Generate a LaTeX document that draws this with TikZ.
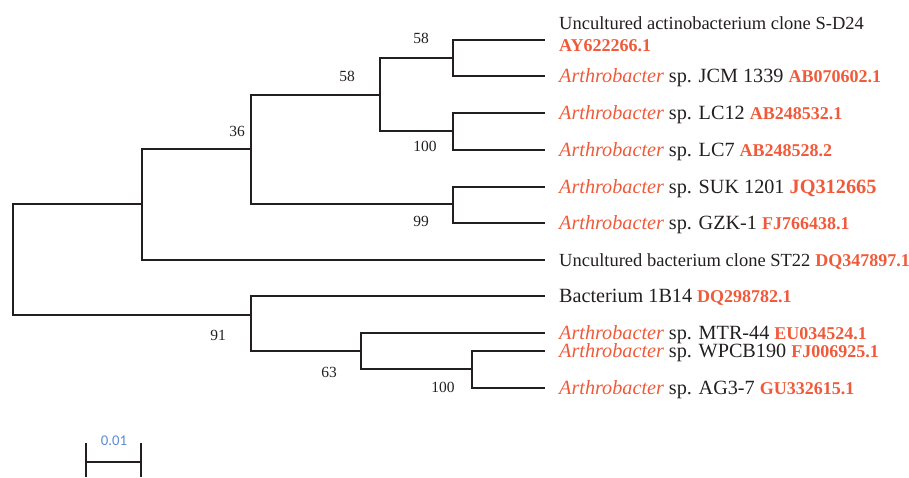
\documentclass[tikz,border=0pt]{standalone}
\usepackage{fontspec}
\setmainfont{Liberation Serif}
\newfontfamily\scalebarfont{Carlito}
\definecolor{accred}{HTML}{F05A3A}
\definecolor{barblue}{HTML}{5B8BD5}
\definecolor{ink}{HTML}{231F20}
\newcommand{\genusname}{\textcolor{accred}{\itshape Arthrobacter}}
\newcommand{\accno}[2][18]{{\fontsize{#1}{21.7}\selectfont\textcolor{accred}{\bfseries #2}}}
\newcommand{\smallname}[1]{{\fontsize{18.5}{21.7}\selectfont #1}}
\begin{document}
\begin{tikzpicture}[x=1pt,y=-1pt,
  branch/.style={line width=1.4pt, draw=ink},
  leaflabel/.style={anchor=base west, inner sep=0pt, text=ink,
    font=\fontsize{20.2}{21.7}\selectfont, align=left},
  support/.style={inner sep=0pt, text=ink, font=\fontsize{15.5}{18}\selectfont}]
\useasboundingbox (0,0) rectangle (909,477);

% internal nodes of the tree
\coordinate (root) at (13,259.5);
\coordinate (nA) at (142,204);
\coordinate (nB) at (251,149);
\coordinate (nC) at (380,95);
\coordinate (nD) at (453,58);
\coordinate (nE) at (453,131);
\coordinate (nF) at (453,204);
\coordinate (nG) at (251,315);
\coordinate (nH) at (361,351);
\coordinate (nI) at (472,369);

% tips
\coordinate (t1) at (545,40);
\coordinate (t2) at (545,76);
\coordinate (t3) at (545,113);
\coordinate (t4) at (545,150);
\coordinate (t5) at (545,187);
\coordinate (t6) at (545,223);
\coordinate (t7) at (545,260);
\coordinate (t8) at (545,296);
\coordinate (t9) at (545,333);
\coordinate (t10) at (545,351);
\coordinate (t11) at (545,388);

% branches
\draw[branch] (root) |- (nA);
\draw[branch] (root) |- (nG);
\draw[branch] (nA) |- (nB);
\draw[branch] (nA) |- (t7);
\draw[branch] (nB) |- (nC);
\draw[branch] (nB) |- (nF);
\draw[branch] (nC) |- (nD);
\draw[branch] (nC) |- (nE);
\draw[branch] (nD) |- (t1);
\draw[branch] (nD) |- (t2);
\draw[branch] (nE) |- (t3);
\draw[branch] (nE) |- (t4);
\draw[branch] (nF) |- (t5);
\draw[branch] (nF) |- (t6);
\draw[branch] (nG) |- (t8);
\draw[branch] (nG) |- (nH);
\draw[branch] (nH) |- (t9);
\draw[branch] (nH) |- (nI);
\draw[branch] (nI) |- (t10);
\draw[branch] (nI) |- (t11);

% bootstrap values
\node[support] (b1) at (421,38) {58};
\node[support] (b2) at (347,76) {58};
\node[support] (b3) at (237,131) {36};
\node[support] (b4) at (425,146) {100};
\node[support] (b5) at (421,221) {99};
\node[support] (b6) at (218,335) {91};
\node[support] (b7) at (329,372) {63};
\node[support] (b8) at (443,387) {100};

% tip labels
\node[leaflabel] (L1) at (559,51) {\smallname{Uncultured actinobacterium clone S-D24}\\\accno{AY622266.1}};
\node[leaflabel] (L2) at (559,82.5) {\genusname{} sp. JCM 1339 \accno{AB070602.1}};
\node[leaflabel] (L3) at (559,119.5) {\genusname{} sp. LC12 \accno{AB248532.1}};
\node[leaflabel] (L4) at (559,156.5) {\genusname{} sp. LC7 \accno{AB248528.2}};
\node[leaflabel] (L5) at (559,193.5) {\genusname{} sp. SUK 1201 \accno[20.3]{JQ312665}};
\node[leaflabel] (L6) at (559,229.5) {\genusname{} sp. GZK-1 \accno{FJ766438.1}};
\node[leaflabel] (L7) at (559,266.5) {\smallname{Uncultured bacterium clone ST22} \accno{DQ347897.1}};
\node[leaflabel] (L8) at (559,302.5) {Bacterium 1B14 \accno{DQ298782.1}};
\node[leaflabel] (L9) at (559,339.5) {\genusname{} sp. MTR-44 \accno{EU034524.1}};
\node[leaflabel] (L10) at (559,357.5) {\genusname{} sp. WPCB190 \accno{FJ006925.1}};
\node[leaflabel] (L11) at (559,394.5) {\genusname{} sp. AG3-7 \accno{GU332615.1}};

% scale bar
\coordinate (sL) at (86,462);
\coordinate (sR) at (141,462);
\coordinate (sLt) at (86,443);
\coordinate (sLb) at (86,477);
\coordinate (sRt) at (141,443);
\coordinate (sRb) at (141,477);
\draw[branch] (sL) -- (sR);
\draw[branch] (sLt) -- (sLb);
\draw[branch] (sRt) -- (sRb);
\node[inner sep=0pt, text=barblue, font=\scalebarfont\fontsize{14.8}{17}\selectfont] (scaletext) at (114,441) {0.01};
\end{tikzpicture}
\end{document}
